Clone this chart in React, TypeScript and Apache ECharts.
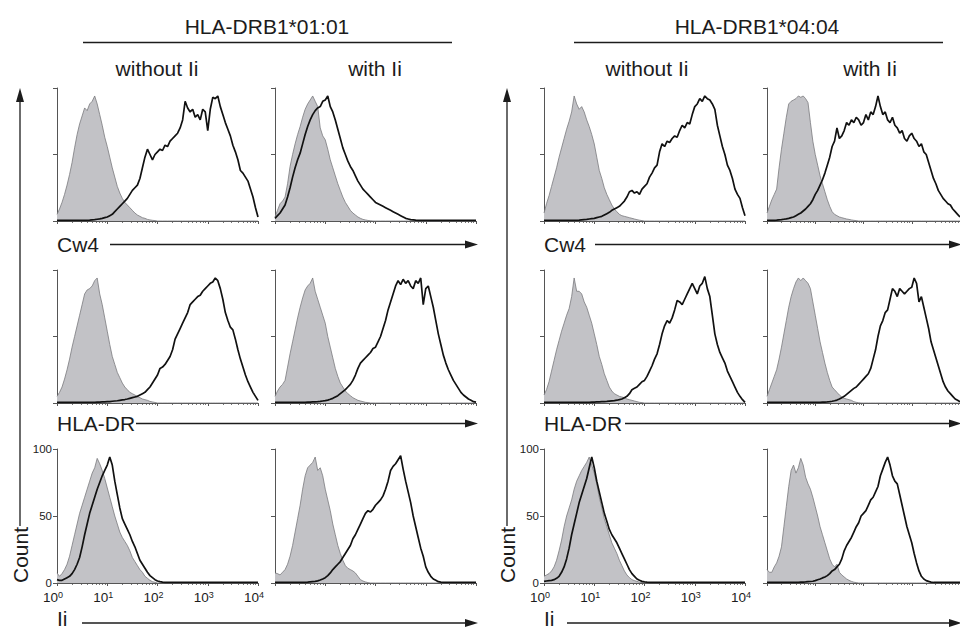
import React, { useEffect, useRef } from "react";
import * as echarts from "echarts";

// Fluorescence channel bins in log10 units: bin i sits at i * BIN_STEP (10^0 ... 10^4)
const BIN_STEP = 0.05;
const X_DECADES = [0, 1, 2, 3, 4];
const Y_TICKS = [0, 50, 100];

const GROUP_TITLES = ["HLA-DRB1*01:01", "HLA-DRB1*04:04"];
const CONDITIONS = ["without Ii", "with Ii"];
const MARKERS = ["Cw4", "HLA-DR", "Ii"];
const Y_TITLE = "Count";

// ---------- HLA-DRB1*01:01, without Ii ----------
const a_cw4_wo_iso = [
  5, 9, 14, 20, 27, 35, 44, 55, 65, 73,
  79, 85, 83, 88, 90, 94, 88, 80, 72, 63,
  56, 48, 40, 33, 26, 21, 17, 14, 12, 10,
  8, 6, 4.5, 3.5, 2.5, 2, 1.2, 0.8, 0.5, 0.3,
  0, 0, 0, 0, 0, 0, 0, 0, 0, 0,
  0, 0, 0, 0, 0, 0, 0, 0, 0, 0,
  0, 0, 0, 0, 0, 0, 0, 0, 0, 0,
  0, 0, 0, 0, 0, 0, 0, 0, 0, 0,
  0,
];
const a_cw4_wo_stain = [
  0.4, 0.4, 0.4, 0.4, 0.4, 0.4, 0.4, 0.4, 0.4, 0.4,
  0.4, 0.4, 0.5, 0.6, 0.8, 1, 1.3, 1.6, 2, 2.5,
  3, 4, 5, 7, 9, 11, 13, 15, 17, 20,
  23, 25, 27, 32, 40, 48, 54, 50, 46, 50,
  52, 54, 53, 57, 56, 60, 62, 64, 66, 70,
  76, 90, 85, 82, 84, 78, 80, 76, 84, 82,
  68, 84, 93, 92, 94, 86, 80, 74, 69, 64,
  57, 52, 46, 38, 36, 33, 30, 24, 18, 10,
  3,
];
const a_dr_wo_iso = [
  5, 8, 12, 18, 25, 33, 42, 50, 58, 66,
  74, 82, 85, 86, 88, 92, 94, 82, 74, 64,
  54, 44, 35, 29, 23, 19, 15, 12, 10, 8,
  7, 6, 5, 4, 3, 2.5, 2, 1.2, 0.8, 0.4,
  0, 0, 0, 0, 0, 0, 0, 0, 0, 0,
  0, 0, 0, 0, 0, 0, 0, 0, 0, 0,
  0, 0, 0, 0, 0, 0, 0, 0, 0, 0,
  0, 0, 0, 0, 0, 0, 0, 0, 0, 0,
  0,
];
const a_dr_wo_stain = [
  0.4, 0.4, 0.4, 0.4, 0.4, 0.4, 0.4, 0.4, 0.4, 0.4,
  0.4, 0.4, 0.4, 0.4, 0.5, 0.5, 0.6, 0.7, 0.8, 0.9,
  1, 1.1, 1.3, 1.5, 1.7, 2, 2.3, 2.6, 3, 3.5,
  4, 4.5, 5, 6, 7, 8, 10, 12, 15, 18,
  21, 26, 27, 29, 32, 35, 40, 48, 52, 56,
  60, 64, 68, 74, 76, 78, 80, 81, 84, 86,
  88, 90, 91, 94, 92, 86, 78, 68, 62, 57,
  55, 48, 40, 33, 27, 21, 16, 12, 8, 5,
  2,
];
const a_ii_wo_iso = [
  7.5, 5, 7, 10, 14, 20, 28, 36, 44, 52,
  58, 64, 70, 76, 82, 86, 93, 89, 84, 78,
  71, 64, 57, 50, 44, 38, 34, 31, 28, 24,
  19, 16, 13, 10, 8, 5, 3.5, 2, 1, 0.5,
  0, 0, 0, 0, 0, 0, 0, 0, 0, 0,
  0, 0, 0, 0, 0, 0, 0, 0, 0, 0,
  0, 0, 0, 0, 0, 0, 0, 0, 0, 0,
  0, 0, 0, 0, 0, 0, 0, 0, 0, 0,
  0,
];
const a_ii_wo_stain = [
  2.5, 2, 2, 3, 4, 5, 7, 10, 14, 19,
  27, 36, 44, 52, 58, 64, 70, 75, 80, 84,
  88, 94, 88, 76, 66, 56, 48, 44, 40, 36,
  31, 27, 22, 17, 14, 11, 8, 5.5, 4, 2.5,
  1.5, 1, 0.6, 0.5, 0.4, 0.4, 0.4, 0.4, 0.4, 0.4,
  0.4, 0.4, 0.4, 0.4, 0.4, 0.4, 0.4, 0.4, 0.4, 0.4,
  0.4, 0.4, 0.4, 0.4, 0.4, 0.4, 0.4, 0.4, 0.4, 0.4,
  0.4, 0.4, 0.4, 0.4, 0.4, 0.4, 0.4, 0.4, 0.4, 0.4,
  0.4,
];

// ---------- HLA-DRB1*01:01, with Ii ----------
const b_cw4_wi_iso = [
  3, 8, 13, 15, 18, 28, 41, 50, 58, 65,
  71, 78, 84, 88, 91, 94, 90, 86, 70, 64,
  61, 54, 46, 40, 34, 28, 23, 18, 14, 11,
  8, 6, 4.5, 3, 2, 1.2, 0.8, 0.4, 0.2, 0,
  0, 0, 0, 0, 0, 0, 0, 0, 0, 0,
  0, 0, 0, 0, 0, 0, 0, 0, 0, 0,
  0, 0, 0, 0, 0, 0, 0, 0, 0, 0,
  0, 0, 0, 0, 0, 0, 0, 0, 0, 0,
  0,
];
const b_cw4_wi_stain = [
  2, 4, 6, 9, 12, 18, 25, 33, 40, 46,
  51, 58, 65, 71, 76, 80, 83, 85, 86, 90,
  91, 94, 86, 82, 76, 69, 62, 55, 50, 45,
  41, 38, 34, 30, 27, 24, 22, 20, 18, 16,
  14, 13, 12, 11, 10, 9, 8, 7, 6, 5,
  4, 3, 2, 1.5, 1, 0.8, 0.6, 0.5, 0.5, 0.4,
  0.4, 0.4, 0.4, 0.4, 0.4, 0.4, 0.4, 0.4, 0.4, 0.4,
  0.4, 0.4, 0.4, 0.4, 0.4, 0.4, 0.4, 0.4, 0.4, 0.4,
  0.4,
];
const b_dr_wi_iso = [
  5, 9, 12, 14, 17, 27, 37, 46, 55, 64,
  72, 79, 85, 88, 90, 94, 84, 78, 72, 66,
  60, 50, 42, 34, 26, 20, 15, 12, 9, 7,
  5.5, 4, 3, 2, 1.5, 1, 0.5, 0.3, 0, 0,
  0, 0, 0, 0, 0, 0, 0, 0, 0, 0,
  0, 0, 0, 0, 0, 0, 0, 0, 0, 0,
  0, 0, 0, 0, 0, 0, 0, 0, 0, 0,
  0, 0, 0, 0, 0, 0, 0, 0, 0, 0,
  0,
];
const b_dr_wi_stain = [
  0.4, 0.4, 0.4, 0.4, 0.4, 0.4, 0.4, 0.4, 0.4, 0.4,
  0.4, 0.4, 0.5, 0.6, 0.7, 0.8, 0.9, 1, 1.2, 1.5,
  1.8, 2.2, 2.8, 3.5, 4.5, 5.5, 7, 8.5, 10, 12,
  14, 17, 21, 26, 30, 32, 34, 36, 38, 41,
  42, 46, 50, 56, 62, 70, 76, 82, 88, 92,
  89, 93, 90, 92, 88, 86, 92, 90, 94, 74,
  86, 88, 80, 72, 62, 52, 44, 36, 30, 25,
  21, 17, 14, 11, 8, 6, 4.5, 3, 2, 1,
  0.6,
];
const b_ii_wi_iso = [
  7.5, 7, 6, 8, 10, 14, 20, 28, 38, 48,
  58, 70, 80, 86, 88, 90, 94, 84, 86, 80,
  70, 62, 54, 44, 36, 28, 22, 17, 13, 11,
  10, 9, 7.5, 5, 2.5, 1.5, 0.8, 0.3, 0, 0,
  0, 0, 0, 0, 0, 0, 0, 0, 0, 0,
  0, 0, 0, 0, 0, 0, 0, 0, 0, 0,
  0, 0, 0, 0, 0, 0, 0, 0, 0, 0,
  0, 0, 0, 0, 0, 0, 0, 0, 0, 0,
  0,
];
const b_ii_wi_stain = [
  0.4, 0.4, 0.4, 0.4, 0.4, 0.4, 0.4, 0.4, 0.4, 0.4,
  0.4, 0.4, 0.5, 0.6, 0.8, 1, 1.2, 1.6, 2.2, 3,
  4, 5.5, 7.5, 10, 12, 14, 16, 19, 22, 25,
  28, 33, 36, 40, 44, 48, 52, 54, 53, 55,
  58, 60, 62, 65, 70, 76, 84, 87, 89, 92,
  95, 85, 76, 68, 60, 50, 42, 34, 26, 20,
  12, 8, 5, 3, 2, 1, 0.6, 0.4, 0.4, 0.4,
  0.4, 0.4, 0.4, 0.4, 0.4, 0.4, 0.4, 0.4, 0.4, 0.4,
  0.4,
];

// ---------- HLA-DRB1*04:04, without Ii ----------
const c_cw4_wo_iso = [
  6, 13, 19, 26, 33, 40, 48, 55, 62, 69,
  75, 82, 94, 88, 84, 86, 82, 76, 71, 65,
  58, 48, 38, 32, 25, 20, 16, 12, 9, 7,
  5, 4, 3.5, 3, 2.5, 2, 1.5, 1, 0.6, 0.3,
  0, 0, 0, 0, 0, 0, 0, 0, 0, 0,
  0, 0, 0, 0, 0, 0, 0, 0, 0, 0,
  0, 0, 0, 0, 0, 0, 0, 0, 0, 0,
  0, 0, 0, 0, 0, 0, 0, 0, 0, 0,
  0,
];
const c_cw4_wo_stain = [
  0.4, 0.4, 0.4, 0.4, 0.4, 0.4, 0.4, 0.4, 0.4, 0.4,
  0.4, 0.4, 0.4, 0.5, 0.6, 0.8, 1, 1.2, 1.5, 1.8,
  2, 2.5, 3, 3.5, 4.5, 5.5, 6.5, 8, 9, 10,
  11, 13, 15, 18, 22, 23, 21, 22, 20, 24,
  26, 28, 33, 36, 40, 42, 52, 58, 56, 60,
  59, 62, 64, 63, 68, 72, 70, 74, 73, 80,
  86, 88, 92, 90, 94, 92, 91, 88, 84, 72,
  64, 56, 50, 42, 38, 32, 24, 20, 17, 10,
  4,
];
const c_dr_wo_iso = [
  6, 10, 16, 24, 32, 40, 47, 54, 60, 66,
  71, 80, 94, 84, 84, 82, 76, 72, 66, 60,
  52, 44, 35, 29, 22, 17, 12, 9, 7, 6,
  5, 4.5, 4, 3, 2.5, 2, 1.5, 1, 0.5, 0.3,
  0, 0, 0, 0, 0, 0, 0, 0, 0, 0,
  0, 0, 0, 0, 0, 0, 0, 0, 0, 0,
  0, 0, 0, 0, 0, 0, 0, 0, 0, 0,
  0, 0, 0, 0, 0, 0, 0, 0, 0, 0,
  0,
];
const c_dr_wo_stain = [
  0.4, 0.4, 0.4, 0.4, 0.4, 0.4, 0.4, 0.4, 0.4, 0.4,
  0.4, 0.4, 0.4, 0.4, 0.4, 0.4, 0.5, 0.5, 0.5, 0.6,
  0.7, 0.8, 0.9, 1, 1.1, 1.2, 1.4, 1.6, 1.8, 2.1,
  2.5, 3, 4, 5, 7, 10, 11, 12, 14, 16,
  17, 20, 24, 28, 33, 37, 44, 52, 58, 62,
  60, 64, 70, 77, 76, 74, 78, 82, 86, 90,
  86, 82, 88, 90, 95, 86, 80, 66, 52, 44,
  38, 34, 30, 24, 20, 16, 12, 8, 5, 2.5,
  0.5,
];
const c_ii_wo_iso = [
  5, 6, 7, 9, 12, 17, 24, 32, 42, 50,
  56, 62, 70, 76, 80, 84, 87, 90, 94, 88,
  82, 74, 64, 56, 48, 42, 36, 30, 26, 22,
  17, 13, 9, 6, 4, 2.5, 1.8, 1.2, 0.6, 0.3,
  0, 0, 0, 0, 0, 0, 0, 0, 0, 0,
  0, 0, 0, 0, 0, 0, 0, 0, 0, 0,
  0, 0, 0, 0, 0, 0, 0, 0, 0, 0,
  0, 0, 0, 0, 0, 0, 0, 0, 0, 0,
  0,
];
const c_ii_wo_stain = [
  1.2, 1.5, 1.8, 2, 2.5, 3.5, 5, 8, 12, 18,
  26, 36, 44, 52, 60, 66, 72, 78, 86, 94,
  86, 76, 68, 60, 52, 46, 40, 36, 33, 30,
  26, 22, 18, 14, 10, 7, 5, 3, 2, 1.2,
  0.8, 0.6, 0.5, 0.4, 0.4, 0.4, 0.4, 0.4, 0.4, 0.4,
  0.4, 0.4, 0.4, 0.4, 0.4, 0.4, 0.4, 0.4, 0.4, 0.4,
  0.4, 0.4, 0.4, 0.4, 0.4, 0.4, 0.4, 0.4, 0.4, 0.4,
  0.4, 0.4, 0.4, 0.4, 0.4, 0.4, 0.4, 0.4, 0.4, 0.4,
  0.4,
];

// ---------- HLA-DRB1*04:04, with Ii ----------
const d_cw4_wi_iso = [
  6, 11, 16, 20, 24, 40, 54, 66, 78, 88,
  90, 91, 92, 94, 93, 94, 92, 89, 74, 60,
  50, 42, 34, 28, 22, 16, 11, 7, 5, 4,
  3, 2.5, 2, 1.5, 1.2, 0.8, 0.5, 0.3, 0, 0,
  0, 0, 0, 0, 0, 0, 0, 0, 0, 0,
  0, 0, 0, 0, 0, 0, 0, 0, 0, 0,
  0, 0, 0, 0, 0, 0, 0, 0, 0, 0,
  0, 0, 0, 0, 0, 0, 0, 0, 0, 0,
  0,
];
const d_cw4_wi_stain = [
  0.4, 0.4, 0.4, 0.5, 0.6, 0.8, 1, 1.3, 1.6, 2,
  2.5, 3, 4, 5, 6, 7.5, 9, 11, 13, 16,
  20, 23, 27, 31, 36, 42, 48, 56, 60, 70,
  62, 64, 68, 74, 72, 76, 74, 78, 76, 72,
  74, 80, 76, 82, 80, 86, 94, 86, 80, 82,
  76, 74, 78, 72, 70, 66, 68, 62, 60, 64,
  66, 62, 60, 56, 58, 52, 50, 44, 38, 32,
  28, 23, 20, 17, 15, 13, 12, 9, 7, 5,
  3,
];
const d_dr_wi_iso = [
  5, 10, 15, 20, 25, 33, 42, 52, 62, 72,
  80, 86, 91, 94, 92, 94, 92, 90, 86, 76,
  66, 56, 46, 38, 30, 23, 17, 12, 10, 8,
  6, 4.5, 3.5, 3, 2.5, 2, 1, 0.5, 0.2, 0,
  0, 0, 0, 0, 0, 0, 0, 0, 0, 0,
  0, 0, 0, 0, 0, 0, 0, 0, 0, 0,
  0, 0, 0, 0, 0, 0, 0, 0, 0, 0,
  0, 0, 0, 0, 0, 0, 0, 0, 0, 0,
  0,
];
const d_dr_wi_stain = [
  0.4, 0.4, 0.4, 0.4, 0.4, 0.4, 0.4, 0.4, 0.4, 0.4,
  0.4, 0.4, 0.4, 0.4, 0.4, 0.4, 0.4, 0.4, 0.4, 0.4,
  0.4, 0.5, 0.5, 0.6, 0.7, 0.8, 1, 1.3, 1.7, 2.2,
  3, 4, 5, 6.5, 8, 9.5, 11, 12, 14, 16,
  18, 20, 22, 26, 33, 40, 50, 58, 62, 68,
  70, 78, 86, 84, 80, 86, 84, 82, 84, 86,
  87, 94, 90, 76, 80, 72, 64, 56, 46, 40,
  34, 28, 22, 16, 12, 9, 7, 5, 3, 2,
  1,
];
const d_ii_wi_iso = [
  10, 8, 8, 12, 15, 20, 27, 42, 57, 72,
  84, 88, 82, 86, 93, 88, 79, 74, 70, 64,
  57, 50, 42, 36, 30, 24, 18, 14, 12, 14,
  8, 6, 4.5, 3, 2, 1.2, 0.6, 0.3, 0, 0,
  0, 0, 0, 0, 0, 0, 0, 0, 0, 0,
  0, 0, 0, 0, 0, 0, 0, 0, 0, 0,
  0, 0, 0, 0, 0, 0, 0, 0, 0, 0,
  0, 0, 0, 0, 0, 0, 0, 0, 0, 0,
  0,
];
const d_ii_wi_stain = [
  0.4, 0.4, 0.4, 0.4, 0.4, 0.4, 0.4, 0.4, 0.4, 0.4,
  0.4, 0.4, 0.4, 0.5, 0.6, 0.7, 0.8, 1, 1.1, 1.3,
  1.8, 2.4, 3, 3.8, 4.5, 5.5, 7, 9, 10, 12,
  14, 18, 24, 28, 31, 34, 38, 42, 45, 50,
  52, 54, 58, 62, 64, 68, 72, 80, 85, 90,
  94, 88, 80, 76, 74, 66, 58, 50, 42, 36,
  30, 22, 15, 9, 5, 3, 1.8, 1.2, 0.7, 0.4,
  0.4, 0.4, 0.4, 0.4, 0.4, 0.4, 0.4, 0.4, 0.4, 0.4,
  0.4,
];

// Panel order: [group][condition][marker]
const PANEL_DATA = [
  [
    [[a_cw4_wo_iso, a_cw4_wo_stain], [a_dr_wo_iso, a_dr_wo_stain], [a_ii_wo_iso, a_ii_wo_stain]],
    [[b_cw4_wi_iso, b_cw4_wi_stain], [b_dr_wi_iso, b_dr_wi_stain], [b_ii_wi_iso, b_ii_wi_stain]],
  ],
  [
    [[c_cw4_wo_iso, c_cw4_wo_stain], [c_dr_wo_iso, c_dr_wo_stain], [c_ii_wo_iso, c_ii_wo_stain]],
    [[d_cw4_wi_iso, d_cw4_wi_stain], [d_dr_wi_iso, d_dr_wi_stain], [d_ii_wi_iso, d_ii_wi_stain]],
  ],
];

// ---------- layout ----------
const COL_LEFT = [[57, 275], [544, 767]];
const ROW_TOP = [88, 270, 449];
const ROW_H = [133, 133, 134];
const PANEL_W = 201;
const GROUP_X = [0, 487];

const FONT = '"Liberation Sans", Arial, Helvetica, sans-serif';
const AX = "#555";
const INK = "#1c1c1c";

const MINOR_TICKS: number[] = [];
for (let d = 0; d < 4; d++) {
  for (let m = 2; m < 10; m++) MINOR_TICKS.push(d + Math.log10(m));
}

function toPairs(vals: number[]) {
  return vals.map((v, i) => [i * BIN_STEP, v]);
}

function txt(text: string, x: number, y: number, size: number, align = "center", extra: any = {}) {
  return {
    type: "text",
    x,
    y,
    silent: true,
    ...extra,
    style: {
      text,
      x: 0,
      y: 0,
      fill: INK,
      font: `${size}px ${FONT}`,
      align,
      verticalAlign: "middle",
      textAlign: align,
      textVerticalAlign: "middle",
    },
  };
}

function line(x1: number, y1: number, x2: number, y2: number, w = 1.3) {
  return {
    type: "line",
    silent: true,
    shape: { x1, y1, x2, y2 },
    style: { stroke: INK, lineWidth: w },
  };
}

function poly(points: number[][]) {
  return { type: "polygon", silent: true, shape: { points }, style: { fill: INK } };
}

function buildOption() {
  const grid: any[] = [];
  const xAxis: any[] = [];
  const yAxis: any[] = [];
  const series: any[] = [];
  let k = 0;
  for (let g = 0; g < 2; g++) {
    for (let c = 0; c < 2; c++) {
      for (let r = 0; r < 3; r++) {
        const showLabels = c === 0 && r === 2;
        grid.push({ left: COL_LEFT[g][c], top: ROW_TOP[r], width: PANEL_W, height: ROW_H[r] });
        xAxis.push({
          type: "value",
          gridIndex: k,
          position: "bottom",
          min: 0,
          max: 4,
          interval: 1,
          axisLine: { show: true, onZero: false, lineStyle: { color: AX, width: 1 } },
          axisTick: { show: true, length: 3, lineStyle: { color: AX } },
          splitLine: { show: false },
          axisLabel: {
            show: showLabels,
            margin: 7,
            color: INK,
            customValues: X_DECADES,
            formatter: (v: number) => `{b|10}{s|${v}}`,
            rich: {
              b: { fontSize: 13.5, fontFamily: FONT, color: INK, verticalAlign: "bottom", lineHeight: 14 },
              s: { fontSize: 9, fontFamily: FONT, color: INK, verticalAlign: "top", lineHeight: 8, padding: [0, 8, 0, 0] },
            },
          },
        });
        xAxis.push({
          type: "value",
          gridIndex: k,
          position: "bottom",
          min: 0,
          max: 4,
          axisLine: { show: false, onZero: false },
          axisTick: { show: true, length: 2, customValues: MINOR_TICKS, lineStyle: { color: AX, width: 0.8 } },
          axisLabel: { show: false },
          splitLine: { show: false },
        });
        yAxis.push({
          type: "value",
          gridIndex: k,
          min: 0,
          max: 100,
          interval: 50,
          axisLine: { show: true, lineStyle: { color: AX, width: 1 } },
          axisTick: { show: true, length: 4, lineStyle: { color: AX } },
          splitLine: { show: false },
          axisLabel: {
            show: showLabels,
            margin: 5,
            fontSize: 11.5,
            lineHeight: 10,
            fontFamily: FONT,
            color: INK,
            customValues: Y_TICKS,
          },
        });
        const [iso, stain] = PANEL_DATA[g][c][r];
        series.push({
          type: "line",
          xAxisIndex: 2 * k,
          yAxisIndex: k,
          data: toPairs(iso),
          symbol: "none",
          silent: true,
          z: 2,
          lineStyle: { color: "#7a7a7e", width: 0.8 },
          areaStyle: { color: "#c2c2c6", opacity: 1 },
        });
        series.push({
          type: "line",
          xAxisIndex: 2 * k,
          yAxisIndex: k,
          data: toPairs(stain),
          symbol: "none",
          silent: true,
          z: 3,
          lineStyle: { color: "#111", width: 1.7 },
        });
        k++;
      }
    }
  }

  const elements: any[] = [];
  const markerY = [244.5, 423.5, 623];
  const markerTextY = [244.5, 423.5, 618];
  const markerLineStart = [[110, 136, 82], [595, 625, 567]];
  const arrowTip = [478, 962];
  for (let g = 0; g < 2; g++) {
    const gx = GROUP_X[g];
    // group title + underline
    elements.push(txt(GROUP_TITLES[g], 267 + (g ? 490 : 0), 26, 21));
    elements.push(line(83 + (g ? 491 : 0), 42.5, 452 + (g ? 491 : 0), 42.5, 1.5));
    // condition headers
    elements.push(txt(CONDITIONS[0], g ? 647 : 157, 68, 21));
    elements.push(txt(CONDITIONS[1], g ? 870 : 375, 68, 21));
    // marker labels and horizontal arrows
    for (let r = 0; r < 3; r++) {
      const y = markerY[r];
      elements.push(txt(MARKERS[r], COL_LEFT[g][0], markerTextY[r], 21, "left"));
      elements.push(line(markerLineStart[g][r], y, arrowTip[g] - 10, y, 1.3));
      elements.push(poly([[arrowTip[g], y], [arrowTip[g] - 13, y - 4], [arrowTip[g] - 13, y + 4]]));
    }
    // vertical Count arrow
    const vx = 20 + gx;
    elements.push(line(vx, 98, vx, 526, 1.3));
    elements.push(poly([[vx, 88], [vx - 4, 102], [vx + 4, 102]]));
    elements.push(txt(Y_TITLE, vx, 555, 21, "center", { rotation: Math.PI / 2 }));
  }

  return {
    animation: false,
    backgroundColor: "#ffffff",
    grid,
    xAxis,
    yAxis,
    series,
    graphic: { elements },
  };
}

export default function App() {
  const ref = useRef<HTMLDivElement>(null);
  useEffect(() => {
    if (!ref.current) return;
    const chart = echarts.init(ref.current, undefined, { renderer: "svg" });
    chart.setOption(buildOption() as any);
    return () => chart.dispose();
  }, []);
  return (
    <div
      ref={ref}
      style={{ position: "fixed", left: 0, top: 0, width: 960, height: 629, overflow: "hidden", background: "#fff" }}
    />
  );
}
